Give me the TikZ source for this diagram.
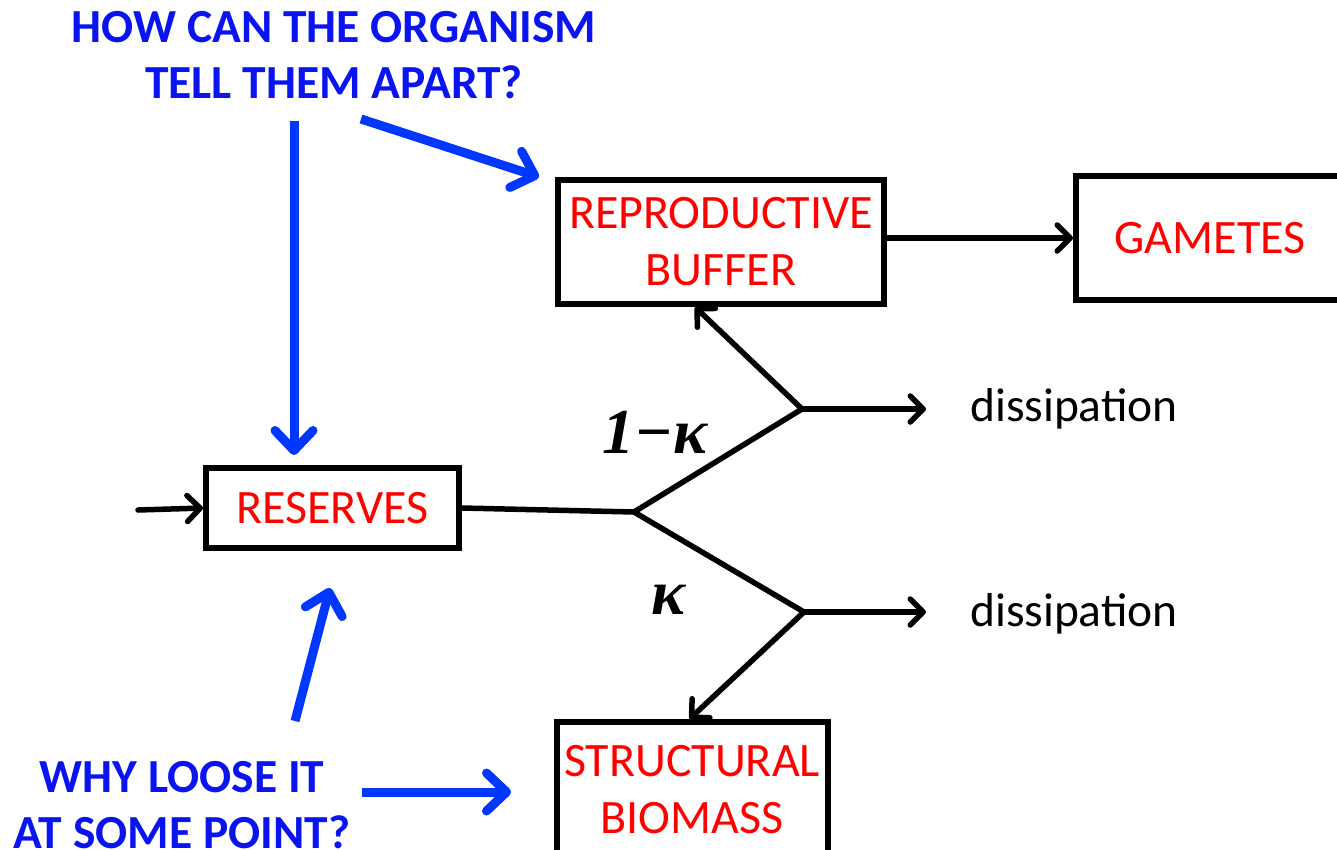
\documentclass[tikz,border=0pt]{standalone}
\usepackage{fontspec}
\setmainfont{Carlito}
\newfontfamily\greekfont{Liberation Serif}
\usetikzlibrary{arrows.meta}
\definecolor{boxred}{RGB}{255,0,0}
\definecolor{qblue}{RGB}{10,20,240}
\definecolor{arrblue}{RGB}{0,55,255}
\tikzset{
  compartment/.style={draw=black, line width=6pt, rectangle, align=center,
    text=boxred, font=\fontsize{48}{57}\selectfont, inner sep=0pt},
  flow/.style={draw=black, line width=5.5pt, line cap=round, line join=round},
  flowarrow/.style={flow, -{Straight Barb[length=13pt, width=26pt, line width=5.5pt, round]}},
  question/.style={text=qblue, align=center, font=\fontsize{47.5}{56}\selectfont\bfseries, inner sep=0pt},
  qarrow/.style={draw=arrblue, line width=9pt,
    -{Straight Barb[length=20pt, width=38pt, line width=9pt, round]}},
  fraction/.style={font=\greekfont\itshape\bfseries\fontsize{64}{66}\selectfont, inner sep=0pt},
  sink/.style={font=\fontsize{47.5}{56}\selectfont, anchor=west, inner sep=0pt}
}
\begin{document}
\begin{tikzpicture}[x=1pt, y=-1pt]
\useasboundingbox (0,0) rectangle (1337,849);

% compartments
\node[compartment, minimum width=253pt, minimum height=80pt] (res) at (332.5,508) {RESERVES};
\node[compartment, minimum width=326pt, minimum height=124pt] (rb) at (721,242) {REPRODUCTIVE\\BUFFER};
\node[compartment, minimum width=290pt, minimum height=124pt] (gam) at (1221,238) {};
\node[text=boxred, font=\fontsize{48}{57}\selectfont, inner sep=0pt] (gamlabel) at (1210,238) {GAMETES};
\node[compartment, minimum width=271pt, minimum height=150pt] (sb) at (692.5,797) {};
\node[text=boxred, align=center, font=\fontsize{48}{57}\selectfont, inner sep=0pt] (sblabel) at (692,790) {STRUCTURAL\\BIOMASS};

% branch points of the kappa rule
\coordinate (k) at (634,512);
\coordinate (up) at (802,409);
\coordinate (lo) at (804,612);
\coordinate (in) at (138,510);
\coordinate (d1) at (926,409);
\coordinate (d2) at (926,612);

% mass flows
\draw[flowarrow] (in) -- (res.west);
\draw[flow] (res.east) -- (k);
\draw[flow] (k) -- (up);
\draw[flow] (k) -- (lo);
\draw[flowarrow] (up) -- (d1);
\draw[flowarrow] (lo) -- (d2);
\draw[flowarrow] (up) -- ([xshift=-26pt]rb.south);
\draw[flowarrow] (lo) -- ([xshift=-3pt]sb.north);
\draw[flowarrow] (rb.east |- gam.west) -- (gam.west);

% sinks
\node[sink] (diss1) at (970,409) {dissipation};
\node[sink] (diss2) at (970,614) {dissipation};

% allocation fractions
\node[fraction] (oneminus) at (655,432) {1−κ};
\node[fraction] (kap) at (668,600) {κ};

% questions
\node[question] (q1) at (334,55) {HOW CAN THE ORGANISM\\TELL THEM APART?};
\node[question] (q2) at (182,805) {WHY LOOSE IT\\AT SOME POINT?};

\coordinate (q1a) at (294,121);
\coordinate (q1b) at (361,119);
\coordinate (q2a) at (295,721);
\coordinate (q2b) at (362,792);
\draw[qarrow] (q1a) -- (294,455);
\draw[qarrow] (q1b) -- (539,177);
\draw[qarrow] (q2a) -- (330,588);
\draw[qarrow] (q2b) -- (511,792);
\end{tikzpicture}
\end{document}
